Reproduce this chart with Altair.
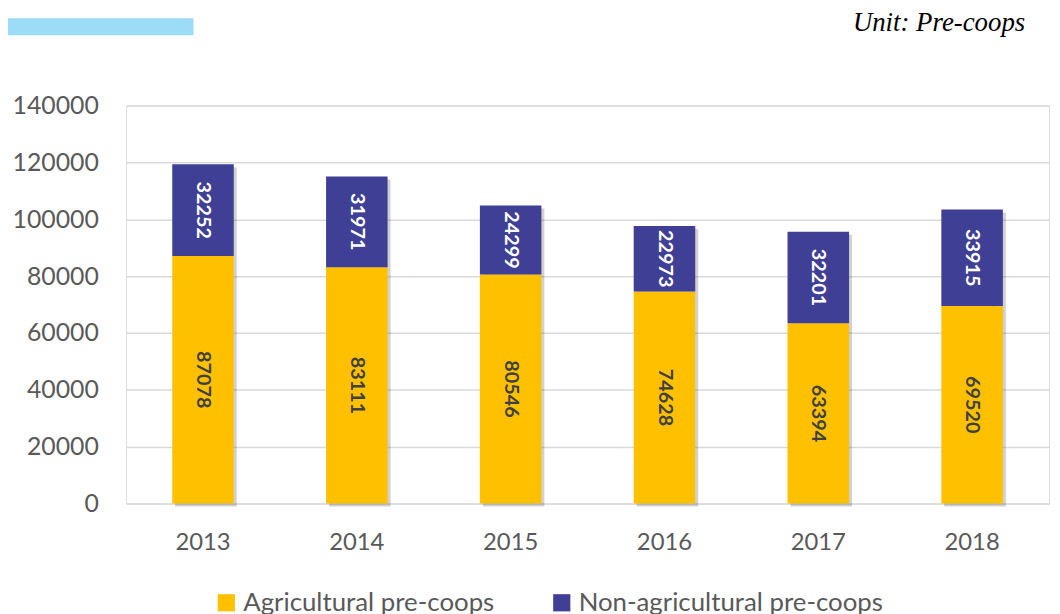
import altair as alt
import pandas as pd

years = ["2013", "2014", "2015", "2016", "2017", "2018"]
agri = [87078, 83111, 80546, 74628, 63394, 69520]
nonagri = [32252, 31971, 24299, 22973, 32201, 33915]
series = ["Agricultural pre-coops", "Non-agricultural pre-coops"]
colors = ["#FFC000", "#3F3F96"]
y_ticks = [0, 20000, 40000, 60000, 80000, 100000, 120000, 140000]

rows = []
for i, yr in enumerate(years):
    rows.append({"year": yr, "series": series[0], "value": agri[i], "ord": 0,
                 "lo": 0, "hi": agri[i]})
    rows.append({"year": yr, "series": series[1], "value": nonagri[i], "ord": 1,
                 "lo": agri[i], "hi": agri[i] + nonagri[i]})
df = pd.DataFrame(rows)
df["mid"] = (df["lo"] + df["hi"]) / 2
tot = pd.DataFrame({"year": years, "total": [a + b for a, b in zip(agri, nonagri)]})

FONT = "Lato"

x = alt.X("year:N", title=None, sort=years,
          scale=alt.Scale(paddingInner=0.6, paddingOuter=0.3),
          axis=alt.Axis(labelAngle=0, labelFontSize=24, labelColor="#595959",
                        labelFont=FONT, labelPadding=27, ticks=False, domain=False,
                        grid=False))
yscale = alt.Scale(domain=[0, 140000])

shadow = alt.Chart(tot).mark_bar(color="#000000", opacity=0.18, xOffset=3, yOffset=3).encode(
    x=x,
    y=alt.Y("total:Q", scale=yscale),
)

bars = alt.Chart(df).mark_bar().encode(
    x=x,
    y=alt.Y("lo:Q", scale=yscale, title=None,
            axis=alt.Axis(values=y_ticks, labelFontSize=25, labelColor="#595959",
                          labelFont=FONT, labelPadding=28, ticks=False, domain=False,
                          gridColor="#D9D9D9", gridWidth=1.5, format="d")),
    y2="hi:Q",
    color=alt.Color("series:N", scale=alt.Scale(domain=series, range=colors),
                    legend=alt.Legend(title=None, orient="none", direction="horizontal",
                                      legendX=88, legendY=488, symbolType="square",
                                      symbolSize=300, symbolStrokeWidth=0,
                                      labelFontSize=26, labelFont=FONT, labelLimit=500,
                                      labelColor="#595959", columnPadding=54,
                                      symbolOpacity=1)),
    order=alt.Order("ord:Q"),
)

labels = alt.Chart(df).mark_text(angle=90, fontSize=20, fontWeight="bold", font=FONT,
                                 align="center", baseline="middle").encode(
    x=x,
    y=alt.Y("mid:Q", scale=yscale),
    text=alt.Text("value:Q", format="d"),
    color=alt.Color("series:N", scale=alt.Scale(domain=series, range=["#404040", "#FFFFFF"]),
                    legend=None),
)

bluebar = alt.Chart(pd.DataFrame({"a": [0]})).mark_rect(color="#9DDCF7").encode(
    x=alt.value(-120), x2=alt.value(68), y=alt.value(-88), y2=alt.value(-71))

unit = alt.Chart(pd.DataFrame({"t": ["Unit: Pre-coops"]})).mark_text(
    font="Liberation Serif", fontStyle="italic", fontSize=27, align="right",
    baseline="alphabetic", color="#000000").encode(
    x=alt.value(906), y=alt.value(-75), text="t:N")

chart = alt.layer(shadow, bars, labels, bluebar, unit).resolve_scale(color="independent").properties(
    width=930, height=401,
    padding={"left": 119, "top": 96, "right": 3, "bottom": 115},
    autosize=alt.AutoSizeParams(type="none"),
).configure_view(stroke=None, strokeWidth=0).configure(background="#FFFFFF")

chart.save("out.html", embed_options={"renderer": "svg", "actions": False})
